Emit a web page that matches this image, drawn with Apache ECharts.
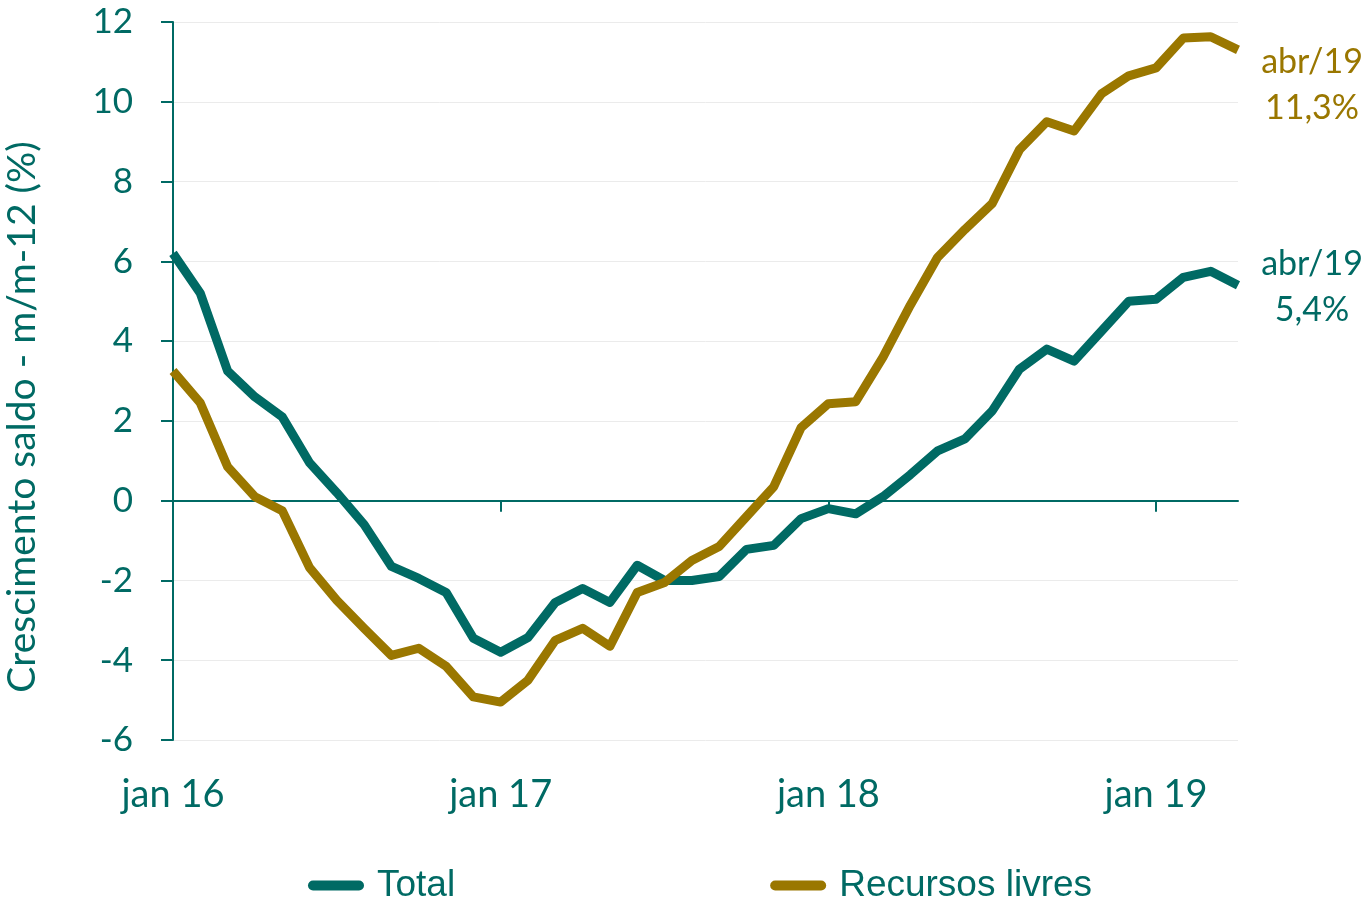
<!DOCTYPE html>
<html>
<head>
<meta charset="utf-8">
<script src="https://cdn.jsdelivr.net/npm/echarts@6/dist/echarts.min.js"></script>
<style>
  html, body { margin: 0; padding: 0; background: #fff; }
  #chart { width: 1363px; height: 900px; }
</style>
</head>
<body>
<div id="chart"></div>
<script>
// meses jan/16 .. abr/19
var meses = [];
var nomes = ['jan','fev','mar','abr','mai','jun','jul','ago','set','out','nov','dez'];
for (var a = 16; a <= 19; a++) {
  for (var m = 0; m < 12; m++) {
    if (a == 19 && m > 3) break;
    meses.push(nomes[m] + ' ' + a);
  }
}

// crescimento saldo m/m-12 (%)
var total = [6.2, 5.2, 3.25, 2.6, 2.1, 0.95, 0.2, -0.6, -1.65, -1.95,
  -2.3, -3.45, -3.8, -3.43, -2.55, -2.2, -2.55, -1.62, -2.0, -2.0,
  -1.9, -1.22, -1.12, -0.45, -0.2, -0.33, 0.1, 0.65, 1.25, 1.55,
  2.25, 3.3, 3.8, 3.5, 4.25, 5.0, 5.05, 5.6, 5.75, 5.4];

var livres = [3.25, 2.45, 0.85, 0.1, -0.25, -1.68, -2.5, -3.2, -3.88, -3.7,
  -4.15, -4.92, -5.05, -4.5, -3.5, -3.2, -3.65, -2.3, -2.05, -1.5,
  -1.15, -0.4, 0.35, 1.83, 2.43, 2.48, 3.6, 4.9, 6.1, 6.8,
  7.45, 8.8, 9.5, 9.27, 10.2, 10.65, 10.85, 11.6, 11.63, 11.3];

var rotuloTotal = ['abr/19', '5,4%'];
var rotuloLivres = ['abr/19', '11,3%'];

var corTotal = '#006a64';
var corLivres = '#9a7700';
var fonte = 'Lato, "Open Sans", sans-serif';

var myChart = echarts.init(document.getElementById('chart'));

var iconeLinha = 'path://M5,0 H51 A5,5 0 0 1 51,10 H5 A5,5 0 0 1 5,0 Z';

var option = {
  animation: false,
  backgroundColor: '#fff',
  grid: { left: 173, right: 125, top: 22, bottom: 160, containLabel: false, outerBoundsMode: 'none' },
  legend: {
    left: 303,
    top: 862,
    itemWidth: 56,
    itemHeight: 10,
    itemGap: 315,
    icon: iconeLinha,
    textStyle: { color: corTotal, fontSize: 37, fontFamily: '"Liberation Sans", Arial, sans-serif', padding: [0, 0, 0, 8] },
    data: ['Total', 'Recursos livres']
  },
  xAxis: [
    {
      type: 'category',
      data: meses,
      boundaryGap: false,
      axisLine: { onZero: true, lineStyle: { color: corTotal, width: 2 } },
      axisTick: { show: true, length: 11, lineStyle: { color: corTotal, width: 2 },
        interval: function (idx) { return idx % 12 === 0; } },
      axisLabel: { show: false },
      splitLine: { show: false }
    },
    {
      type: 'category',
      data: meses,
      boundaryGap: false,
      position: 'bottom',
      axisLine: { show: false, onZero: false },
      axisTick: { show: false },
      axisLabel: {
        show: true,
        margin: 36,
        color: corTotal,
        fontSize: 38,
        fontFamily: fonte,
        interval: function (idx) { return idx % 12 === 0; }
      },
      splitLine: { show: false }
    }
  ],
  yAxis: {
    type: 'value',
    min: -6,
    max: 12,
    interval: 2,
    name: 'Crescimento saldo - m/m-12 (%)',
    nameLocation: 'middle',
    nameGap: 131,
    nameTextStyle: { color: corTotal, fontSize: 39, fontFamily: fonte, padding: [0, 72, 0, 0] },
    axisLine: { show: true, lineStyle: { color: corTotal, width: 2 } },
    axisTick: { show: true, length: 12, lineStyle: { color: corTotal, width: 2 } },
    axisLabel: { color: corTotal, fontSize: 35, fontFamily: fonte, margin: 40 },
    splitLine: { show: true, lineStyle: { color: '#ebebeb', width: 1 } }
  },
  series: [
    {
      name: 'Total',
      type: 'line',
      data: total,
      symbol: 'none',
      color: corTotal,
      lineStyle: { width: 9, color: corTotal, join: 'round' },
      z: 3,
      endLabel: {
        show: true,
        formatter: rotuloTotal.join('\n'),
        color: corTotal,
        fontSize: 34,
        fontFamily: fonte,
        lineHeight: 46,
        align: 'center',
        offset: [66, 2]
      }
    },
    {
      name: 'Recursos livres',
      type: 'line',
      data: livres,
      symbol: 'none',
      color: corLivres,
      lineStyle: { width: 9, color: corLivres, join: 'round' },
      z: 4,
      endLabel: {
        show: true,
        formatter: rotuloLivres.join('\n'),
        color: corLivres,
        fontSize: 34,
        fontFamily: fonte,
        lineHeight: 46,
        align: 'center',
        offset: [66, 35]
      }
    }
  ]
};

myChart.setOption(option);
</script>
</body>
</html>
